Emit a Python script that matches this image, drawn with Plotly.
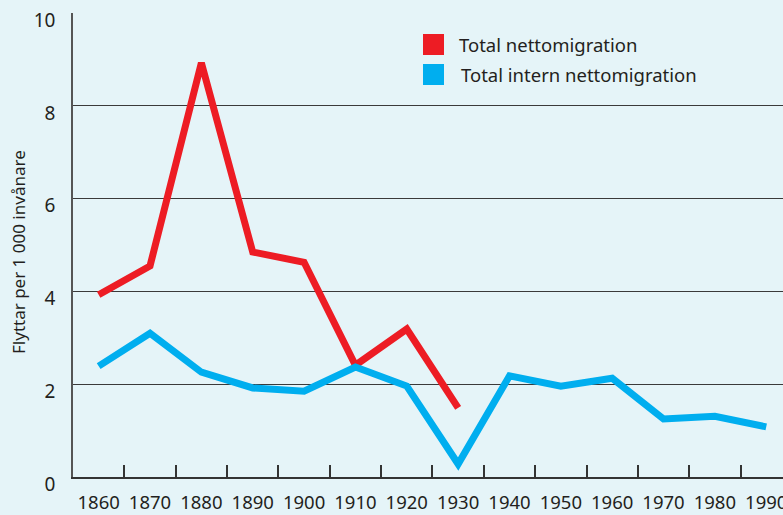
import plotly.graph_objects as go

years = [1860, 1870, 1880, 1890, 1900, 1910, 1920, 1930, 1940, 1950, 1960, 1970, 1980, 1990]
total_years = [1860, 1870, 1880, 1890, 1900, 1910, 1920, 1930]
total_net = [3.93, 4.55, 8.93, 4.85, 4.63, 2.41, 3.19, 1.49]
intern_years = years
intern_net = [2.39, 3.10, 2.26, 1.92, 1.85, 2.37, 1.96, 0.28, 2.18, 1.96, 2.13, 1.25, 1.31, 1.08]
series_names = ["Total nettomigration", "Total intern nettomigration"]
colors = ["#ed1c24", "#00aeef"]
y_ticks = [0, 2, 4, 6, 8, 10]
y_title = "Flyttar per 1 000 invånare"

W, H = 783, 515
L, T, R, B = 73, 13, 783, 477
BG = "#e5f4f8"
FONT = "Noto Sans"

def px(x):
    return (x - L) / (R - L)

def py(y):
    return (B - y) / (B - T)

fig = go.Figure()
fig.add_trace(go.Scatter(x=total_years, y=total_net, mode="lines",
                         line=dict(color=colors[0], width=7), name=series_names[0],
                         showlegend=False))
fig.add_trace(go.Scatter(x=intern_years, y=intern_net, mode="lines",
                         line=dict(color=colors[1], width=7), name=series_names[1],
                         showlegend=False))

# manual legend
for i, (name, c) in enumerate(zip(series_names, colors)):
    top = 34 + 30 * i
    fig.add_shape(type="rect", xref="paper", yref="paper",
                  x0=px(423), x1=px(444), y0=py(top + 21), y1=py(top),
                  fillcolor=c, line=dict(width=0))
    fig.add_annotation(xref="paper", yref="paper", x=px(457 + 2 * i), y=py(top + 10.5),
                       text=name, showarrow=False, xanchor="left", yanchor="middle",
                       font=dict(family=FONT, size=18.5, color="#231f20"))

fig.add_annotation(xref="paper", yref="paper", x=px(18), y=py(252),
                   text=y_title, textangle=-90, showarrow=False,
                   xanchor="center", yanchor="middle",
                   font=dict(family=FONT, size=17, color="#231f20"))

fig.update_layout(
    width=W, height=H,
    margin=dict(l=L, r=W - R, t=T, b=H - B, pad=0, autoexpand=False),
    paper_bgcolor=BG, plot_bgcolor=BG,
    font=dict(family=FONT, size=19, color="#231f20"),
    xaxis=dict(
        range=[1855, 1855 + (R - L) / 5.135], automargin=False,
        tickvals=years, ticktext=[str(y) for y in years],
        tickfont=dict(size=18.5),
        ticks="", showgrid=False, zeroline=False,
        showline=True, linecolor="#333333", linewidth=2,
        ticklabelstandoff=8, ticklabeloverflow="allow",
        minor=dict(tickvals=[y + 5 for y in years], ticks="inside", ticklen=12,
                   tickcolor="#333333", tickwidth=1.5, showgrid=False),
    ),
    yaxis=dict(
        range=[0, 10.004], tickvals=y_ticks, automargin=False,
        ticks="", showgrid=True, gridcolor="#3a3a3a", gridwidth=1.2,
        zeroline=False, showline=True, linecolor="#555555", linewidth=1.5,
        ticklabelstandoff=12, ticklabelshift=7,
    ),
)

fig.write_html("out.html", config={"displayModeBar": False},
               post_script="document.body.style.margin='0';document.body.style.overflow='hidden';")
